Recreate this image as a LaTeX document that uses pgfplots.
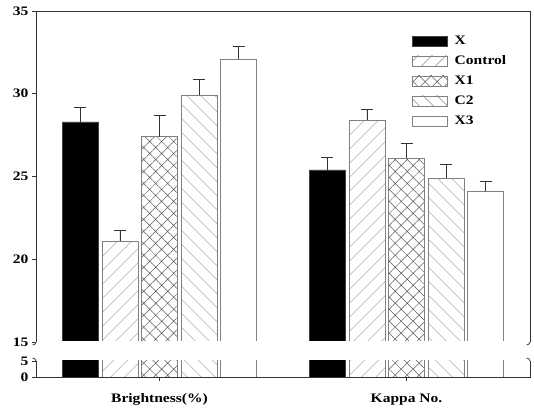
\documentclass[border=0pt]{standalone}
\usepackage{fontspec}
\setmainfont{Liberation Serif}[FakeStretch=1.2]
\usepackage{pgfplots}
\pgfplotsset{compat=1.18}
\usetikzlibrary{patterns.meta}
\pgfplotsset{
  mybar/.style={ybar, bar width=0.146, bar shift=0pt, line width=0.6pt,
    legend image code/.code={\draw[##1] (0bp,-5bp) rectangle (35bp,5bp); \path (41bp,0bp);}},
  sX/.style={mybar, fill=black, draw=black!75},
  sC/.style={mybar, draw=black!50, pattern={Lines[angle=45,distance=10.5pt,line width=0.5pt]}, pattern color=black!65},
  sX1/.style={mybar, draw=black!50, pattern={Hatch[angle=45,distance=8.5pt,line width=0.5pt]}, pattern color=black!65},
  sC2/.style={mybar, draw=black!50, pattern={Lines[angle=-45,distance=10.5pt,line width=0.5pt]}, pattern color=black!65},
  sX3/.style={mybar, draw=black!50, fill=white},
  eb/.style={error bars/.cd, y dir=plus, y explicit,
    error bar style={line width=0.8pt, black!80},
    error mark options={rotate=90, mark size=6bp, line width=0.8pt, black!80}},
  common/.style={scale only axis, width=494bp, anchor=south west,
    xmin=-0.5, xmax=1.5, clip mode=individual,
    axis line style={draw=none}, tick align=outside, major tick length=4bp,
    tick style={line width=0.8pt, black!80},
    ytick pos=left,
    /pgf/number format/assume math mode=true,
    tick label style={font=\bfseries\fontsize{13}{15}\selectfont}},
}
\begin{document}
\begin{tikzpicture}
\useasboundingbox (0,0) rectangle (534bp,411bp);
% upper axis
\begin{axis}[common, at={(36bp,69bp)}, height=331bp,
  ymin=15, ymax=35, ytick={15,20,25,30,35}, xtick=\empty,
  legend style={draw=none, fill=none, at={(0.761,0.93)}, anchor=north west,
    inner sep=0pt, row sep=7bp, cells={anchor=west},
    nodes={inner sep=1bp, text height=9bp, text depth=2bp},
    font=\bfseries\fontsize{13}{15}\selectfont},
]
\addplot[sX, eb] coordinates {(-0.32,28.3) +- (0,0.9) (0.68,25.4) +- (0,0.77)};
\addlegendentry{X}
\addplot[sC, eb] coordinates {(-0.16,21.1) +- (0,0.62) (0.84,28.4) +- (0,0.66)};
\addlegendentry{Control}
\addplot[sX1, eb] coordinates {(0,27.4) +- (0,1.3) (1,26.1) +- (0,0.92)};
\addlegendentry{X1}
\addplot[sC2, eb] coordinates {(0.16,29.9) +- (0,0.95) (1.16,24.9) +- (0,0.82)};
\addlegendentry{C2}
\addplot[sX3, eb] coordinates {(0.32,32.1) +- (0,0.75) (1.32,24.1) +- (0,0.6)};
\addlegendentry{X3}
\draw[white, line width=1.4pt] ([xshift=1bp]rel axis cs:0,0) -- ([xshift=-1bp]rel axis cs:1,0);
\draw[line width=0.8pt, black!80] (rel axis cs:0,0) -- (rel axis cs:0,1) -- (rel axis cs:1,1) -- (rel axis cs:1,0);
\draw[line width=0.7pt, black!80] (rel axis cs:0,0) to[out=-90,in=0] ([xshift=-3.5bp,yshift=-3bp]rel axis cs:0,0);
\draw[line width=0.7pt, black!80] (rel axis cs:1,0) to[out=-90,in=0] ([xshift=-3.5bp,yshift=-3bp]rel axis cs:1,0);
\end{axis}
% lower axis
\begin{axis}[common, at={(36bp,34bp)}, height=16bp,
  ymin=0, ymax=5, ytick={0,5}, xtick={0,1},
  xticklabels={Brightness(\%), Kappa No.},
  xtick pos=bottom,
  xticklabel style={yshift=-9bp},
]
\addplot[sX] coordinates {(-0.32,28.3) (0.68,25.4)};
\addplot[sC] coordinates {(-0.16,21.1) (0.84,28.4)};
\addplot[sX1] coordinates {(0,27.4) (1,26.1)};
\addplot[sC2] coordinates {(0.16,29.9) (1.16,24.9)};
\addplot[sX3] coordinates {(0.32,32.1) (1.32,24.1)};
\draw[line width=0.8pt, black!80] (rel axis cs:0,1) -- (rel axis cs:0,0) -- (rel axis cs:1,0) -- (rel axis cs:1,1);
\draw[line width=0.7pt, black!80] (rel axis cs:0,1) to[out=90,in=0] ([xshift=-3.5bp,yshift=3bp]rel axis cs:0,1);
\draw[line width=0.7pt, black!80] (rel axis cs:1,1) to[out=90,in=0] ([xshift=-3.5bp,yshift=3bp]rel axis cs:1,1);
\end{axis}
\end{tikzpicture}
\end{document}
